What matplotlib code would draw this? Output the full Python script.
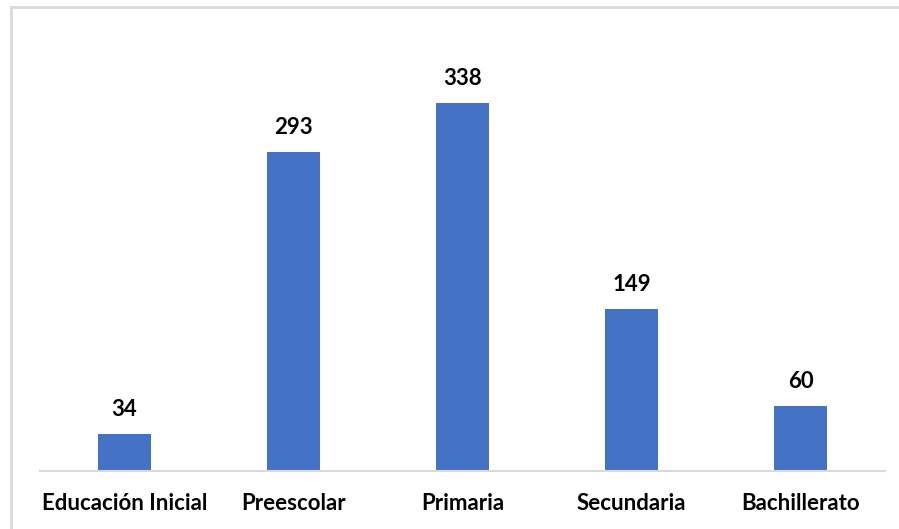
import matplotlib.pyplot as plt
from matplotlib.patches import Rectangle

niveles = ["Educación Inicial", "Preescolar", "Primaria", "Secundaria", "Bachillerato"]
valores = [34, 293, 338, 149, 60]

plt.rcParams['font.family'] = ['Lato', 'DejaVu Sans']

fig = plt.figure(figsize=(8.99, 5.29), dpi=100)
W, H = 899, 529

# chart area frame (light gray, cropped on the right and bottom)
fig.patches.append(Rectangle((11 / W, -0.1), 1.0, 1 - 7 / H + 0.1, transform=fig.transFigure,
                             fill=False, edgecolor='#d9d9d9', linewidth=2))

ax = fig.add_axes([40 / W, (H - 471) / H, 845 / W, (471 - 36) / H])
x = range(len(niveles))
bars = ax.bar(x, valores, width=0.31, color='#4472c4')
for xi, v in zip(x, valores):
    ax.text(xi, v + 13, str(v), ha='center', va='bottom', fontsize=16, fontweight='bold')

ax.set_xlim(-0.5, 4.5)
ax.set_ylim(0, 400)
ax.set_xticks(list(x))
ax.set_xticklabels(niveles, fontsize=16, fontweight='bold')
ax.tick_params(axis='x', length=0, pad=16)
ax.set_yticks([])
for s in ['top', 'right', 'left']:
    ax.spines[s].set_visible(False)
ax.spines['bottom'].set_color('#d9d9d9')
ax.spines['bottom'].set_linewidth(1.5)

fig.savefig("out.png", dpi=100)
